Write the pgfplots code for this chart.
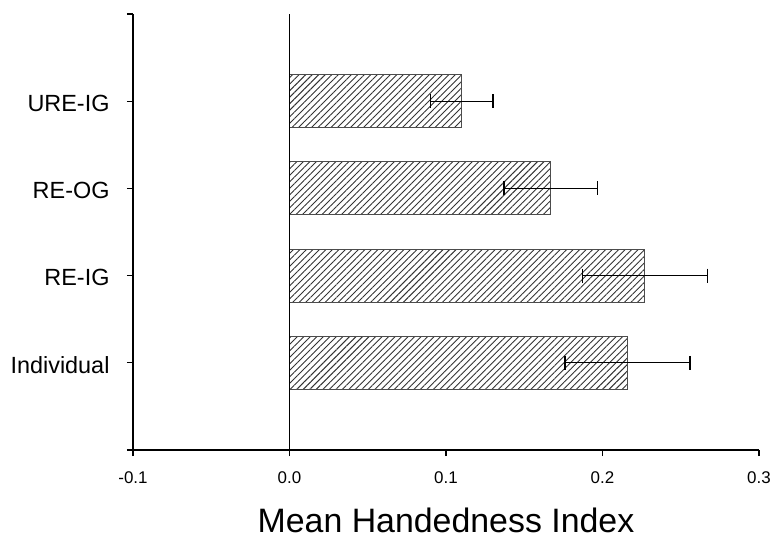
\documentclass[border=0pt]{standalone}
\usepackage{pgfplots}
\pgfplotsset{compat=1.18}
\usepackage{fontspec}
\setmainfont{Liberation Sans}
\usetikzlibrary{patterns.meta}

% mean handedness index and its error, by condition
\pgfplotstableread{
y  x      err
1  0.216  0.040
2  0.227  0.040
3  0.167  0.030
4  0.110  0.020
}\hidata

\begin{document}
\begin{tikzpicture}
\useasboundingbox (-133bp,-93bp) rectangle (642bp,450bp);
\begin{axis}[
  at={(0,0)}, anchor=south west,
  scale only axis, width=626bp, height=436bp,
  xmin=-0.1, xmax=0.3, ymin=0, ymax=5,
  axis x line=bottom, axis y line=left,
  axis line style={-, line width=1.3bp},
  tick align=outside, major tick length=6bp,
  tick style={black, line width=1.3bp},
  xtick={-0.1,0,0.1,0.2,0.3},
  xticklabel style={font=\fontsize{17}{20}\selectfont, yshift=-12bp},
  /pgf/number format/.cd, fixed, fixed zerofill, precision=1, assume math mode=true,
  /pgfplots/.cd,
  ytick={0,1,2,3,4,5},
  yticklabels={,Individual,RE-IG,RE-OG,URE-IG,},
  yticklabel style={font=\fontsize{23.5}{28}\selectfont, xshift=-14bp, yshift=-2bp},
  clip=false,
]
\addplot[xbar, bar width=53bp, draw=black!70, line width=1bp,
  pattern={Lines[angle=45, distance=4.6bp, line width=0.9bp]}, pattern color=black!80,
  error bars/.cd, x dir=both, x explicit, error mark=|,
  error bar style={black, line width=1.3bp},
  error mark options={black, mark size=7bp, line width=1.3bp}]
  table[x=x, y=y, x error=err] {\hidata};
\addplot[black, line width=1.3bp] coordinates {(0,0) (0,5)};
\node[font=\fontsize{34}{40}\selectfont, anchor=base, yshift=-82bp]
  at (axis description cs:0.5,0) {Mean Handedness Index};
\end{axis}
\end{tikzpicture}
\end{document}
